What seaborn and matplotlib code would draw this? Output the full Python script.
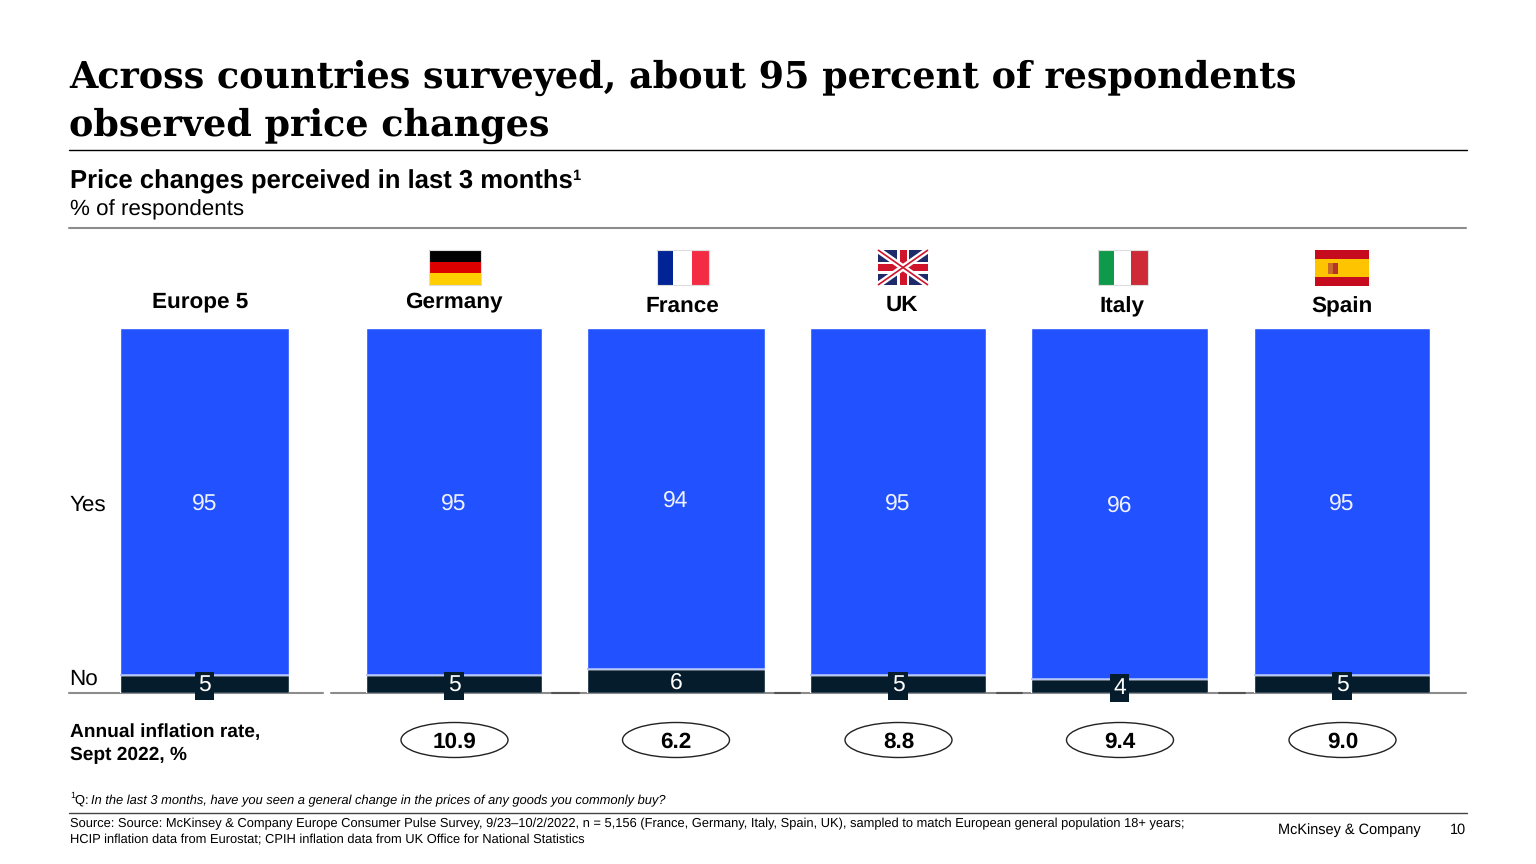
## Price changes perceived by country: stacked yes/no bars with inflation rates below
import matplotlib
matplotlib.use("Agg")
import matplotlib.pyplot as plt
from matplotlib.patches import Ellipse, Rectangle
import seaborn as sns

## Values
countries = ["Europe 5", "Germany", "France", "UK", "Italy", "Spain"]
yes_share = [95.1, 95.1, 93.4, 95.1, 96.1, 95.1]
no_share = [4.9, 4.9, 6.6, 4.9, 3.9, 4.9]
yes_labels = ["95", "95", "94", "95", "96", "95"]
no_labels = ["5", "5", "6", "5", "4", "5"]
inflation = [10.9, 6.2, 8.8, 9.4, 9.0]

# pixel layout of the slide
bar_left = [120, 366, 587, 810, 1031, 1254]
bar_right = [289, 542, 765, 986, 1208, 1430]
name_x = [200, 454, 682, 902, 1122, 1342]
name_y = [302, 302, 306, 305, 307, 307]
oval_x = [454.5, 676, 898.5, 1120, 1342.5]

W, H = 1536, 864
BLUE = "#2251ff"
NAVY = "#051c2c"
BOX_TOP, BOX_BOTTOM = 328, 693

sns.set_theme(style="white")
plt.rcParams["font.family"] = ["Liberation Sans", "DejaVu Sans"]
plt.rcParams["text.hinting"] = "no_hinting"

fig = plt.figure(figsize=(W / 100, H / 100), dpi=100, facecolor="white")

# Helper function to plot 1 bar panel at its slide position
def plot_panel(i):
    ax = fig.add_axes([bar_left[i] / W, 1 - BOX_BOTTOM / H,
                       (bar_right[i] - bar_left[i]) / W, (BOX_BOTTOM - BOX_TOP) / H])
    sns.barplot(x=[countries[i]], y=[no_share[i]], color=NAVY, width=1, saturation=1,
                errorbar=None, ax=ax)
    sns.barplot(x=[countries[i]], y=[yes_share[i]], bottom=no_share[i], color=BLUE, width=1,
                saturation=1, errorbar=None, ax=ax)
    ax.set_xlim(-0.5, 0.5)
    ax.set_ylim(0, 100)
    ax.axhline(no_share[i], color="#a9bcf7", lw=1.2)
    ax.bar_label(ax.containers[1], labels=[yes_labels[i]], label_type="center",
                 color="#eef1ff", fontsize=16.5, padding=-1.5)
    box = None
    if no_labels[i] != "6":  # the thin bars get a dark box behind the number
        box = dict(facecolor=NAVY, edgecolor="none", pad=2.5)
    ax.bar_label(ax.containers[0], labels=[no_labels[i]], label_type="center",
                 color="white", fontsize=16.5, bbox=box, zorder=5, padding=-1.5)
    ax.axis("off")

for i in range(len(countries)):
    plot_panel(i)

## Overlay in slide pixels for text, rules and flags
ov = fig.add_axes([0, 0, 1, 1], zorder=-1)
ov.set_xlim(0, W)
ov.set_ylim(H, 0)
ov.axis("off")
top = fig.add_axes([0, 0, 1, 1], zorder=10)
top.set_xlim(0, W)
top.set_ylim(H, 0)
top.axis("off")
top.patch.set_alpha(0)

def txt(x, y, s, size, **kw):
    kw.setdefault("va", "center")
    kw.setdefault("color", "black")
    top.text(x, y, s, fontsize=size, **kw)

title_font = dict(family="DejaVu Serif", weight="bold", color="black")
txt(69, 78, "Across countries surveyed, about 95 percent of respondents", 26.3, **title_font)
txt(69, 126, "observed price changes", 26.3, **title_font)
top.plot([69, 1467], [149.5, 149.5], color="black", lw=1)
txt(70, 182, "Price changes perceived in last 3 months", 18.45, weight="bold")
txt(572, 176, "1", 10.5, weight="bold")
txt(70, 210, "% of respondents", 16.1)
top.plot([69, 1466], [228, 228], color="#8c8c8c", lw=1.5)

txt(69, 505, "Yes", 16.2)
txt(69, 679, "No", 16.2)

# baseline, gray with darker bits between the bars
ov.plot([69, 323], [692.5, 692.5], color="#8c8c8c", lw=1.5)
ov.plot([331, 1466], [692.5, 692.5], color="#8c8c8c", lw=1.5)
for a, b in [(552, 579), (775, 800), (997, 1022), (1219, 1245)]:
    ov.plot([a, b], [692.5, 692.5], color="#555555", lw=1.5)

for i, name in enumerate(countries):
    txt(name_x[i], name_y[i], name, 16.2, weight="bold", ha="center")

txt(70, 732, "Annual inflation rate,", 13.8, weight="bold")
txt(70, 755, "Sept 2022, %", 13.8, weight="bold")
for x, rate in zip(oval_x, inflation):
    top.add_patch(Ellipse((x, 740), 107, 35, facecolor="white", edgecolor="#222222", lw=1))
    txt(x, 742, f"{rate:.1f}", 16.2, weight="bold", ha="center")

txt(70, 796, "1", 6.5)
txt(75, 800.5, "Q: ", 9.3)
txt(91, 800.5, "In the last 3 months, have you seen a general change in the prices of any goods you commonly buy?",
    9.3, style="italic")
top.plot([69, 1467], [813, 813], color="#444444", lw=1)
txt(70, 823.5, "Source: Source: McKinsey & Company Europe Consumer Pulse Survey, 9/23\u201310/2/2022, n = 5,156 "
    "(France, Germany, Italy, Spain, UK), sampled to match European general population 18+ years;", 9.31)
txt(70, 839.5, "HCIP inflation data from Eurostat; CPIH inflation data from UK Office for National Statistics", 9.31)
txt(1278, 830, "McKinsey & Company", 10.45)
txt(1466, 830, "10", 10.45, ha="right")

## Flags
def rect(x0, y0, x1, y1, c):
    top.add_patch(Rectangle((x0, y0), x1 - x0, y1 - y0, facecolor=c, edgecolor="none"))

def flag_border(x0, y0, x1, y1):
    top.add_patch(Rectangle((x0, y0), x1 - x0, y1 - y0, facecolor="none", edgecolor="#dddddd", lw=0.8))

# Germany
rect(429, 250, 481, 262, "#000000")
rect(429, 262, 481, 273, "#dd0000")
rect(429, 273, 481, 285, "#ffce00")
flag_border(429, 250, 481, 285)
# France
rect(657, 250, 673, 285, "#002395")
rect(673, 250, 692, 285, "#ffffff")
rect(692, 250, 709, 285, "#f42c43")
flag_border(657, 250, 709, 285)
# UK
rect(878, 250, 928, 285, "#1f2a6b")
top.plot([878, 928], [250, 285], color="white", lw=4.5, solid_capstyle="butt")
top.plot([878, 928], [285, 250], color="white", lw=4.5, solid_capstyle="butt")
top.plot([878, 928], [250, 285], color="#cf142b", lw=1.2, solid_capstyle="butt")
top.plot([878, 928], [285, 250], color="#cf142b", lw=1.2, solid_capstyle="butt")
rect(897, 250, 909, 285, "white")
rect(878, 261.5, 928, 273.5, "white")
rect(899.5, 250, 906.5, 285, "#cf142b")
rect(878, 264, 928, 271, "#cf142b")
# Italy
rect(1098, 250, 1114, 285, "#0f9a4b")
rect(1114, 250, 1131, 285, "#ffffff")
rect(1131, 250, 1148, 285, "#ce2b37")
flag_border(1098, 250, 1148, 285)
# Spain
rect(1315, 250, 1369, 259, "#c60b1e")
rect(1315, 259, 1369, 277, "#ffc400")
rect(1315, 277, 1369, 286, "#c60b1e")
rect(1328, 263, 1333, 274, "#c8682a")
rect(1333, 263, 1338, 274, "#b5342a")

fig.savefig("out.png", dpi=100)
